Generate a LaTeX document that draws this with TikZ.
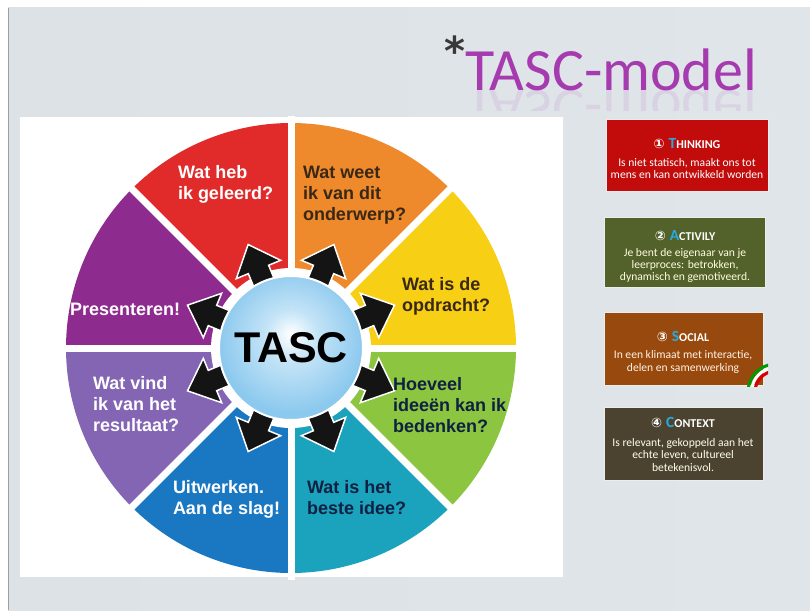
\documentclass[tikz,border=0pt]{standalone}
\usepackage{fontspec}
\setmainfont{Liberation Sans}
\newfontfamily\carl{Carlito}
\newfontfamily\dejavu{DejaVu Sans}
\definecolor{segred}{HTML}{E12B2B}
\definecolor{segorange}{HTML}{EE8A2B}
\definecolor{segyellow}{HTML}{F7CF14}
\definecolor{seggreen}{HTML}{8CC53F}
\definecolor{segteal}{HTML}{1BA3BE}
\definecolor{segblue}{HTML}{1A78C2}
\definecolor{seglav}{HTML}{8465B4}
\definecolor{segpurple}{HTML}{8E2B8E}
\definecolor{txtbrown}{HTML}{3A2816}
\definecolor{txtnavy}{HTML}{0F2142}
\definecolor{tascblue}{HTML}{8CC9EE}
\definecolor{tascmid}{HTML}{C4E4F7}
\definecolor{ttlpurple}{HTML}{A53BAE}
\definecolor{boxred}{HTML}{C20B0B}
\definecolor{boxgreen}{HTML}{53612A}
\definecolor{boxbrown}{HTML}{984A0E}
\definecolor{boxdark}{HTML}{4B4330}
\definecolor{capcyan}{HTML}{27A9E1}
\definecolor{slL}{HTML}{DDE2E7}
\definecolor{slM}{HTML}{EEF0F2}
\definecolor{slR}{HTML}{E0E5EA}
\pgfdeclareradialshading{tascshade}{\pgfpoint{0bp}{5bp}}{color(0bp)=(white); color(9bp)=(tascmid); color(25bp)=(tascblue); color(50bp)=(tascblue)}
\newcommand{\boxttl}[3]{{\dejavu\fontsize{13}{13}\selectfont #1}\hspace{4pt}{\color{capcyan}\fontsize{15.5}{15.5}\selectfont #2}{\fontsize{12}{12}\selectfont #3}}
\tikzset{
  segtext/.style={anchor=north west, inner sep=0pt, outer sep=0pt, align=left, font=\fontsize{18}{21}\selectfont\bfseries},
  wedgearrow/.style={fill=black!92, draw=white, line width=1.5pt, line join=miter},
  tbox/.style={draw=white!85!gray, line width=1pt, anchor=north west, inner sep=0pt, outer sep=0pt},
  boxtitle/.style={anchor=base, inner sep=0pt, font=\carl\bfseries, text=white},
  boxbody/.style={anchor=north, inner sep=0pt, align=center, font=\carl\fontsize{11.6}{12.2}\selectfont},
  titlefont/.style={inner sep=0pt, font=\carl\fontsize{60}{60}\selectfont, text=ttlpurple}
}
\begin{document}
\begin{tikzpicture}[x=1pt, y=-1pt]
\useasboundingbox (0,0) rectangle (810,610);
% slide background
\fill[white] (0,0) rectangle (810,610);
\shade[left color=slL, middle color=slM, right color=slR] (8,8) rectangle (810,610);
\draw[gray!75, line width=1.5pt] (8.5,8) -- (8.5,610);
% title
\node[titlefont, anchor=base west] (ttl) at (465,90) {TASC-model};
\begin{scope}
  \clip (440,90) rectangle (780,110);
  \node[titlefont, anchor=base west, yscale=-1, transform shape, opacity=0.1] (ttlr) at (465,90) {TASC-model};
\end{scope}
\node[inner sep=0pt, anchor=base west, font=\dejavu\bfseries\fontsize{40}{40}\selectfont, text=black!78] (ast) at (444,66) {*};
% white picture panel
\fill[white] (20,117) rectangle (563,577);
% wheel
\begin{scope}[shift={(291,348)}, yscale=-1]
  \foreach \a/\c in {90/segred,45/segorange,0/segyellow,-45/seggreen,-90/segteal,-135/segblue,180/seglav,135/segpurple}
    \fill[\c] (0,0) -- (\a:225) arc[start angle=\a, end angle=\a+45, radius=225] -- cycle;
  \foreach \a in {0,45,...,315}
    \draw[white, line width=7pt] (0,0) -- (\a:232);
  \fill[white] (0,0) circle[radius=80];
  \foreach \a in {112.5,67.5,22.5,-22.5,-67.5,-112.5,-157.5,157.5}{
    \begin{scope}[rotate=\a]
      \filldraw[wedgearrow] (62,-11) -- (85,-11) -- (85,-24) -- (112,0) -- (85,24) -- (85,11) -- (62,11) -- cycle;
    \end{scope}
  }
\end{scope}
\shade[shading=tascshade, draw=white, line width=2pt] (291,348) circle[radius=72];
\node[inner sep=0pt, font=\fontsize{43}{43}\selectfont\bfseries] (tasc) at (291,348) {TASC};
% wheel labels
\node[segtext, text=white] (lred) at (178,165) {Wat heb\\ik geleerd?};
\node[segtext, text=txtbrown] (lorange) at (303,166) {Wat weet\\ik van dit\\onderwerp?};
\node[segtext, text=txtbrown] (lyellow) at (402,277) {Wat is de\\opdracht?};
\node[segtext, text=txtnavy] (lgreen) at (393,377) {Hoeveel\\ideeën kan ik\\bedenken?};
\node[segtext, text=txtnavy] (lteal) at (307,480) {Wat is het\\beste idee?};
\node[segtext, text=white] (lblue) at (173,480) {Uitwerken.\\Aan de slag!};
\node[segtext, text=white] (llav) at (93,376) {Wat vind\\ik van het\\resultaat?};
\node[segtext, text=white] (lpurple) at (70,303) {Presenteren!};
% right boxes
\node[tbox, fill=boxred, minimum width=162pt, minimum height=72pt] (b1) at (606,119) {};
\node[boxtitle] (t1) at (687,148) {\boxttl{①}{T}{HINKING}};
\node[boxbody, text=white] (d1) at (687,158) {Is niet statisch, maakt ons tot\\mens en kan ontwikkeld worden};

\node[tbox, fill=boxgreen, minimum width=161pt, minimum height=70pt] (b2) at (604,217) {};
\node[boxtitle] (t2) at (685,240) {\boxttl{②}{A}{CTIVILY}};
\node[boxbody, text=white!88!yellow] (d2) at (685,248) {Je bent de eigenaar van je\\leerproces: betrokken,\\dynamisch en gemotiveerd.};

\node[tbox, fill=boxbrown, minimum width=159pt, minimum height=73pt] (b3) at (604,312) {};
\node[boxtitle] (t3) at (683,341) {\boxttl{③}{S}{OCIAL}};
\node[boxbody, text=white!90!orange, font=\carl\fontsize{11.6}{13}\selectfont] (d3) at (683,350) {In een klimaat met interactie,\\delen en samenwerking};
\begin{scope}
  \clip (730,350) rectangle (768,386);
  \draw[green!60!black, line width=3pt] (776,392) ++(185:28) arc[start angle=185, end angle=265, radius=28];
  \draw[white, line width=3pt] (776,392) ++(185:24.5) arc[start angle=185, end angle=265, radius=24.5];
  \draw[red!85!black, line width=3pt] (776,392) ++(185:21) arc[start angle=185, end angle=265, radius=21];
\end{scope}

\node[tbox, fill=boxdark, minimum width=159pt, minimum height=73pt] (b4) at (604,407) {};
\node[boxtitle] (t4) at (683,427) {\boxttl{④}{C}{ONTEXT}};
\node[boxbody, text=white!92!yellow, font=\carl\fontsize{11.6}{12.5}\selectfont] (d4) at (683,438) {Is relevant, gekoppeld aan het\\echte leven, cultureel\\betekenisvol.};
\end{tikzpicture}
\end{document}
